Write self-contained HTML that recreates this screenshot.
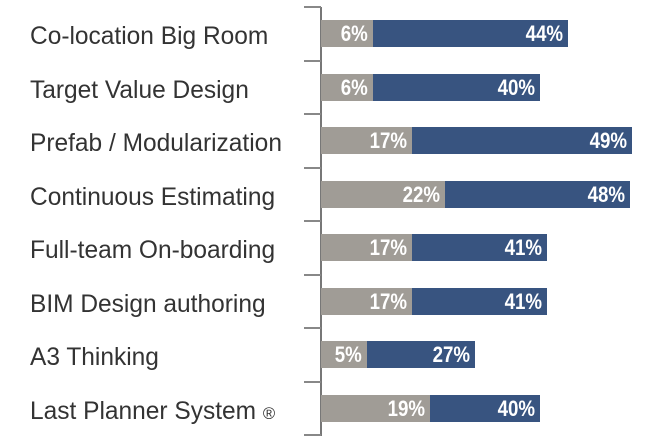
<!DOCTYPE html>
<html><head><style>
body{margin:0;width:655px;height:442px;background:#fff;position:relative;overflow:hidden;font-family:"Liberation Sans",sans-serif}
.l{position:absolute;left:30px;font-size:25px;color:#333;white-space:nowrap;line-height:30px;transform:scaleX(0.98);transform-origin:left center}
.l small{font-size:17px}
.b{position:absolute;height:27px;color:#fff;font-weight:bold;font-size:22px;line-height:27px;text-align:right;box-sizing:border-box;padding-right:5px;font-family:"Liberation Sans",sans-serif}
.b span{display:inline-block;transform:scaleX(0.85);transform-origin:right center}
.g{background:#a09c96}.n{background:#385480}
.ax{position:absolute;left:320px;top:7px;width:2px;height:429px;background:#777}
.t{position:absolute;left:304px;width:17px;height:2px;background:#888}
</style></head><body>
<div class="ax"></div>
<div id="c"></div>
<script>
var d=[["Co-location Big Room",373,568,"6%","44%"],["Target Value Design",373,540,"6%","40%"],["Prefab / Modularization",412,632,"17%","49%"],["Continuous Estimating",445,630,"22%","48%"],["Full-team On-boarding",412,547,"17%","41%"],["BIM Design authoring",412,547,"17%","41%"],["A3 Thinking",367,475,"5%","27%"],["Last Planner System <small>\u00ae</small>",430,540,"19%","40%"]];
var h="";
for(var i=0;i<=8;i++)h+='<div class="t" style="top:'+(6+53.5*i)+'px"></div>';
d.forEach(function(r,i){var y=20+53.5*i;
h+='<div class="l" style="top:'+(y+1)+'px">'+r[0]+'</div>';
h+='<div class="b g" style="left:321px;top:'+y+'px;width:'+(r[1]-321)+'px"><span>'+r[3]+'</span></div>';
h+='<div class="b n" style="left:'+r[1]+'px;top:'+y+'px;width:'+(r[2]-r[1])+'px"><span>'+r[4]+'</span></div>';});
document.getElementById("c").innerHTML=h;
</script>
</body></html>
